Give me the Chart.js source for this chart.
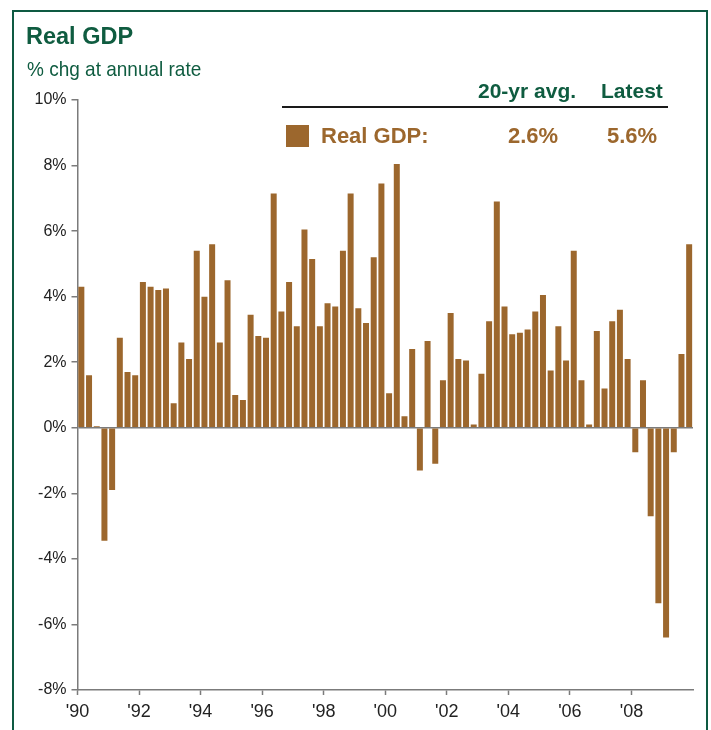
<!DOCTYPE html>
<html>
<head>
<meta charset="utf-8">
<script src="https://cdn.jsdelivr.net/npm/chart.js@4.4.1/dist/chart.umd.min.js"></script>
<style>
    html, body { margin: 0; padding: 0; background: #fff; }
    #wrap { position: relative; width: 711px; height: 730px; overflow: hidden; }
    #frame { position: absolute; left: 12px; top: 10px; width: 696px; height: 760px; border: 2px solid #0e5a42; box-sizing: border-box; }
    #gdpChart { position: absolute; left: 0; top: 0; }
    .txt { position: absolute; white-space: nowrap; font-family: 'Liberation Sans', Arial, sans-serif; line-height: 1; }
    .green { color: #0f5c40; }
    .brown { color: #9c672d; }
</style>
</head>
<body>
<div id="wrap">
    <div id="frame"></div>
    <canvas id="gdpChart" width="711" height="730"></canvas>
    <div class="txt green" style="left:26px; top:25px; font-size:23.5px; font-weight:bold;">Real GDP</div>
    <div class="txt green" style="left:27px; top:58px; font-size:19px; transform:scaleY(1.1); transform-origin:left top;">% chg at annual rate</div>
    <div class="txt green" style="left:478px; top:80px; font-size:21px; font-weight:bold;">20-yr avg.</div>
    <div class="txt green" style="left:601px; top:80px; font-size:21px; font-weight:bold;">Latest</div>
    <div style="position:absolute; left:282px; top:106px; width:386px; height:2px; background:#1a1a1a;"></div>
    <div style="position:absolute; left:286px; top:125px; width:23px; height:22px; background:#9c672d;"></div>
    <div class="txt brown" style="left:321px; top:125px; font-size:22px; font-weight:bold;">Real GDP:</div>
    <div class="txt brown" style="left:508px; top:125px; font-size:22px; font-weight:bold;">2.6%</div>
    <div class="txt brown" style="left:607px; top:125px; font-size:22px; font-weight:bold;">5.6%</div>
</div>
<script>
// Quarterly real GDP, % chg at annual rate, 1990 Q1 - 2009 Q4
const gdp1990s = [
    4.3, 1.6, 0.05, -3.45,   // 1990
    -1.9, 2.75, 1.7, 1.6,    // 1991
    4.45, 4.3, 4.2, 4.25,    // 1992
    0.75, 2.6, 2.1, 5.4,     // 1993
    4.0, 5.6, 2.6, 4.5,      // 1994
    1.0, 0.85, 3.45, 2.8,    // 1995
    2.75, 7.15, 3.55, 4.45,  // 1996
    3.1, 6.05, 5.15, 3.1,    // 1997
    3.8, 3.7, 5.4, 7.15,     // 1998
    3.65, 3.2, 5.2, 7.45     // 1999
];
const gdp2000s = [
    1.05, 8.05, 0.35, 2.4,   // 2000
    -1.3, 2.65, -1.1, 1.45,  // 2001
    3.5, 2.1, 2.05, 0.1,     // 2002
    1.65, 3.25, 6.9, 3.7,    // 2003
    2.85, 2.9, 3.0, 3.55,    // 2004
    4.05, 1.75, 3.1, 2.05,   // 2005
    5.4, 1.45, 0.1, 2.95,    // 2006
    1.2, 3.25, 3.6, 2.1,     // 2007
    -0.75, 1.45, -2.7, -5.35, // 2008
    -6.4, -0.75, 2.25, 5.6   // 2009
];
const xTickLabels = ["'90", "'92", "'94", "'96", "'98", "'00", "'02", "'04", "'06", "'08"];
const yTickValues = [-8, -6, -4, -2, 0, 2, 4, 6, 8, 10];

const gdp = gdp1990s.concat(gdp2000s);
// each quarter sits in the middle of its quarter-year slot
const points = gdp.map((v, i) => ({ x: 1990 + i / 4 + 0.125, y: v }));

const axisGray = '#7b7b7b';
const tickFont = { family: "'Liberation Sans', Arial, sans-serif", size: 16 };

const ctx = document.getElementById('gdpChart').getContext('2d');
const chart = new Chart(ctx, {
    type: 'bar',
    data: {
        datasets: [{
            label: 'Real GDP',
            data: points,
            backgroundColor: '#9c672d',
            borderWidth: 0,
            barPercentage: 0.78,
            categoryPercentage: 1
        }]
    },
    options: {
        responsive: false,
        animation: false,
        layout: { padding: { top: 100, right: 18, left: 0, bottom: 0 } },
        plugins: {
            legend: { display: false },
            tooltip: { enabled: false }
        },
        scales: {
            x: {
                type: 'linear',
                min: 1990,
                max: 2010,
                offset: false,
                afterBuildTicks: s => { s.ticks = s.ticks.filter(t => t.value < 2010); },
                afterFit: s => { s.height = 40; },
                ticks: {
                    stepSize: 2,
                    autoSkip: false,
                    maxRotation: 0,
                    padding: 6,
                    color: '#222',
                    font: { family: tickFont.family, size: 18 },
                    callback: v => xTickLabels[Math.round((v - 1990) / 2)]
                },
                grid: { offset: false, drawOnChartArea: false, tickLength: 5, tickColor: axisGray, tickWidth: 1.5 },
                border: { color: axisGray, width: 1.5 }
            },
            y: {
                min: -8,
                max: 10,
                afterBuildTicks: s => { s.ticks = yTickValues.map(v => ({ value: v })); },
                afterFit: s => { s.width = 77.5; },
                ticks: {
                    padding: 5,
                    color: '#222',
                    font: tickFont,
                    callback: v => v + '%'
                },
                grid: {
                    color: c => (c.tick && c.tick.value === 0) ? axisGray : 'rgba(0,0,0,0)',
                    lineWidth: 1.5,
                    tickColor: axisGray,
                    tickLength: 6,
                    tickWidth: 1.5
                },
                border: { color: axisGray, width: 1.5 }
            }
        }
    }
});
</script>
</body>
</html>
